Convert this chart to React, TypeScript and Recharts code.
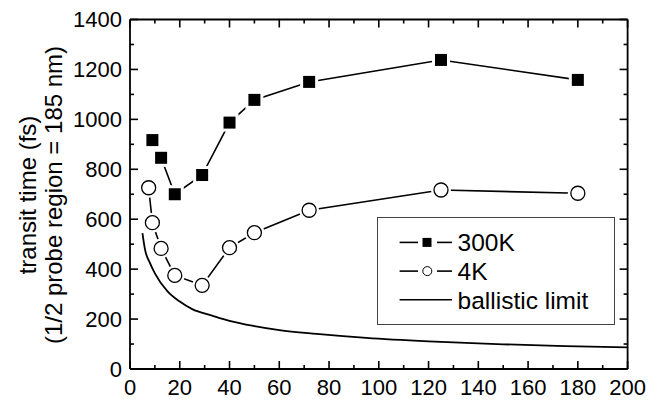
import React from 'react';
import { LineChart, Line, XAxis, YAxis, Label } from 'recharts';

const x300K = [9, 12.5, 18, 29, 40, 50, 72, 125, 180];
const y300K = [917, 846, 700, 777, 987, 1078, 1150, 1238, 1158];

const x4K = [7.5, 9, 12.5, 18, 29, 40, 50, 72, 125, 180];
const y4K = [726, 586, 483, 375, 335, 486, 546, 636, 717, 704];

const xBallistic = [5, 6, 8, 10, 15, 20, 25, 33, 40, 50, 60, 75, 95, 120, 150, 175, 200];
const yBallistic = [544, 480, 425, 383, 312, 270, 240, 214, 193, 172, 156, 141, 125, 111, 99, 92, 87];

const xTicks = [0, 10, 20, 30, 40, 50, 60, 70, 80, 90, 100, 110, 120, 130, 140, 150, 160, 170, 180, 190, 200];
const yTicks = [0, 100, 200, 300, 400, 500, 600, 700, 800, 900, 1000, 1100, 1200, 1300, 1400];

const FONT = '"Liberation Sans", Arial, Helvetica, sans-serif';

const toRows = (xs: number[], ys: number[]) => xs.map((x, i) => ({ x, y: ys[i] }));
const data300K = toRows(x300K, y300K);
const data4K = toRows(x4K, y4K);
const dataBallistic = toRows(xBallistic, yBallistic);

const SquareDot = (props: any) => {
  const { cx, cy } = props;
  if (cx == null || cy == null) return null;
  return (
    <g>
      <rect x={cx - 9} y={cy - 9} width={18} height={18} fill="#fff" />
      <rect x={cx - 6} y={cy - 6} width={12} height={12} fill="#000" />
    </g>
  );
};

const CircleDot = (props: any) => {
  const { cx, cy } = props;
  if (cx == null || cy == null) return null;
  return (
    <g>
      <circle cx={cx} cy={cy} r={10} fill="#fff" />
      <circle cx={cx} cy={cy} r={7} fill="#fff" stroke="#000" strokeWidth={1.3} />
    </g>
  );
};

const BottomTick = (props: any) => {
  const { x, y, payload } = props;
  const major = payload.value % 20 === 0;
  return (
    <g>
      <line x1={x} x2={x} y1={y} y2={y - (major ? 8 : 4)} stroke="#000" strokeWidth={1.6} />
      {major && (
        <text x={x} y={y + 26} textAnchor="middle" fontSize={22} fontFamily={FONT} fill="#000">
          {payload.value}
        </text>
      )}
    </g>
  );
};

const TopTick = (props: any) => {
  const { x, y, payload } = props;
  const major = payload.value % 20 === 0;
  return <line x1={x} x2={x} y1={y} y2={y + (major ? 8 : 4)} stroke="#000" strokeWidth={1.6} />;
};

const LeftTick = (props: any) => {
  const { x, y, payload } = props;
  const major = payload.value % 200 === 0;
  return (
    <g>
      <line x1={x} x2={x + (major ? 8 : 4)} y1={y} y2={y} stroke="#000" strokeWidth={1.6} />
      {major && (
        <text x={x - 8} y={y + 7.5} textAnchor="end" fontSize={22} fontFamily={FONT} fill="#000">
          {payload.value}
        </text>
      )}
    </g>
  );
};

const RightTick = (props: any) => {
  const { x, y, payload } = props;
  const major = payload.value % 200 === 0;
  return <line x1={x} x2={x - (major ? 8 : 4)} y1={y} y2={y} stroke="#000" strokeWidth={1.6} />;
};

const legendItems = [
  { name: '300K', kind: 'square' },
  { name: '4K', kind: 'circle' },
  { name: 'ballistic limit', kind: 'line' },
];

const ChartLegend = () => (
  <svg width={238} height={108} style={{ display: 'block' }}>
    <rect x={0.5} y={0.5} width={237} height={107} fill="#fff" stroke="#444" strokeWidth={1} />
    {legendItems.map((item, i) => {
      const cy = 25.4 + i * 28.7;
      return (
        <g key={item.name}>
          {item.kind === 'line' ? (
            <line x1={22.6} x2={75} y1={cy} y2={cy} stroke="#000" strokeWidth={1.6} />
          ) : (
            <>
              <line x1={22.6} x2={41} y1={cy} y2={cy} stroke="#000" strokeWidth={1.6} />
              <line x1={60} x2={75} y1={cy} y2={cy} stroke="#000" strokeWidth={1.6} />
              {item.kind === 'square' ? (
                <rect x={45.5} y={cy - 4.5} width={9} height={9} fill="#000" />
              ) : (
                <circle cx={50.3} cy={cy} r={4.5} fill="#fff" stroke="#000" strokeWidth={1} />
              )}
            </>
          )}
          <text x={80.6} y={cy + 9} fontSize={24.5} fontFamily={FONT} fill="#000">
            {item.name}
          </text>
        </g>
      );
    })}
  </svg>
);

const YTitle = () => (
  <g fontFamily={FONT} fontSize={24} fill="#000">
    <text transform="translate(28,187) rotate(-90)" textAnchor="middle">
      transit time (fs)
    </text>
    <text transform="translate(54,187) rotate(-90)" textAnchor="middle">
      (1/2 probe region = 185 nm)
    </text>
  </g>
);

export default function App() {
  return (
    <div style={{ position: 'relative', width: 649, height: 393 }}>
      <LineChart width={649} height={393} margin={{ top: 0, right: 0, bottom: 0, left: 0 }}>
        <XAxis
          xAxisId="bottom"
          dataKey="x"
          type="number"
          domain={[0, 200]}
          ticks={xTicks}
          interval={0}
          height={32}
          tickSize={0}
          tickMargin={0}
          tick={<BottomTick />}
          axisLine={{ stroke: '#000', strokeWidth: 1.8 }}
          allowDataOverflow
        />
        <XAxis
          xAxisId="top"
          orientation="top"
          dataKey="x"
          type="number"
          domain={[0, 200]}
          ticks={xTicks}
          interval={0}
          height={11.5}
          tickSize={0}
          tickMargin={0}
          tick={<TopTick />}
          axisLine={{ stroke: '#000', strokeWidth: 1.8 }}
          allowDataOverflow
        />
        <YAxis
          yAxisId="left"
          type="number"
          domain={[0, 1400]}
          ticks={yTicks}
          interval={0}
          width={122}
          tickSize={0}
          tickMargin={0}
          tick={<LeftTick />}
          axisLine={{ stroke: '#000', strokeWidth: 1.8 }}
          allowDataOverflow
        >
          <Label content={<YTitle />} />
        </YAxis>
        <YAxis
          yAxisId="right"
          orientation="right"
          type="number"
          domain={[0, 1400]}
          ticks={yTicks}
          interval={0}
          width={29.4}
          tickSize={0}
          tickMargin={0}
          tick={<RightTick />}
          axisLine={{ stroke: '#000', strokeWidth: 1.8 }}
          allowDataOverflow
        />
        <Line
          xAxisId="bottom"
          yAxisId="left"
          data={dataBallistic}
          dataKey="y"
          type="monotone"
          stroke="#000"
          strokeWidth={1.8}
          dot={false}
          isAnimationActive={false}
        />
        <Line
          xAxisId="bottom"
          yAxisId="left"
          data={data4K}
          dataKey="y"
          type="linear"
          stroke="#000"
          strokeWidth={1.6}
          dot={<CircleDot />}
          isAnimationActive={false}
        />
        <Line
          xAxisId="bottom"
          yAxisId="left"
          data={data300K}
          dataKey="y"
          type="linear"
          stroke="#000"
          strokeWidth={1.6}
          dot={<SquareDot />}
          isAnimationActive={false}
        />
      </LineChart>
      <div style={{ position: 'absolute', left: 368.7, top: 209.3 }}>
        <ChartLegend />
      </div>
    </div>
  );
}
